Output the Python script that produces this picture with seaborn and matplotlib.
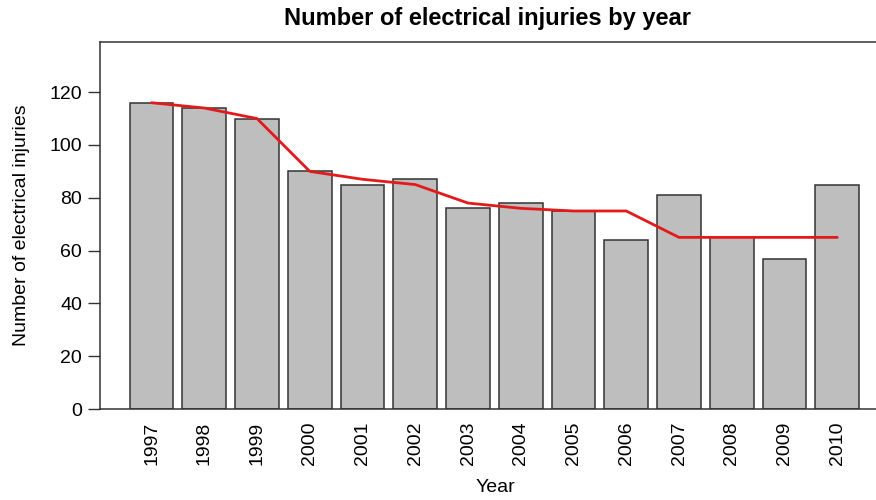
import numpy as np
import pandas as pd
import matplotlib
matplotlib.use('Agg')
import matplotlib.pyplot as plt
import seaborn as sns

# Data
years = ['1997', '1998', '1999', '2000', '2001', '2002', '2003',
         '2004', '2005', '2006', '2007', '2008', '2009', '2010']
injuries = [116, 114, 110, 90, 85, 87, 76, 78, 75, 64, 81, 65, 57, 85]
trend = [116, 114, 110, 90, 87, 85, 78, 76, 75, 75, 65, 65, 65, 65]

df = pd.DataFrame({'year': years, 'injuries': injuries, 'trend': trend})

sns.set_style('white')
plt.rcParams['font.family'] = ['Liberation Sans', 'DejaVu Sans']
plt.rcParams['text.color'] = 'black'
plt.rcParams['axes.labelcolor'] = 'black'
plt.rcParams['xtick.color'] = 'black'
plt.rcParams['ytick.color'] = 'black'

fig = plt.figure(figsize=(8.76, 5), dpi=100)
ax = fig.add_axes([100 / 876, 91 / 500, 790 / 876, 367 / 500])

sns.barplot(data=df, x='year', y='injuries', color='#BEBEBE', saturation=1,
            edgecolor='#333333', linewidth=1.1, width=0.83, ax=ax)
sns.lineplot(x=np.arange(len(years)), y=df['trend'], color='#E31A1C',
             linewidth=2, ax=ax)

ax.set_xlim(-0.977, 14.0)
ax.set_ylim(0, 139)
ax.set_yticks([0, 20, 40, 60, 80, 100, 120])
ax.tick_params(axis='y', length=9, width=1, color='#333333', labelsize=14, pad=4, left=True)
ax.tick_params(axis='x', length=0, labelsize=14, pad=9, labelrotation=90)

for side in ['left', 'top', 'bottom']:
    ax.spines[side].set_visible(True)
    ax.spines[side].set_color('#333333')
    ax.spines[side].set_linewidth(1.1)
ax.spines['right'].set_visible(False)

ax.set_xlabel('Year', fontsize=14, labelpad=10)
ax.set_ylabel('Number of electrical injuries', fontsize=14, labelpad=14)
ax.set_title('Number of electrical injuries by year', fontsize=17,
             fontweight='bold', pad=12, x=(488 - 100) / 790)

fig.savefig('out.png', dpi=100)
